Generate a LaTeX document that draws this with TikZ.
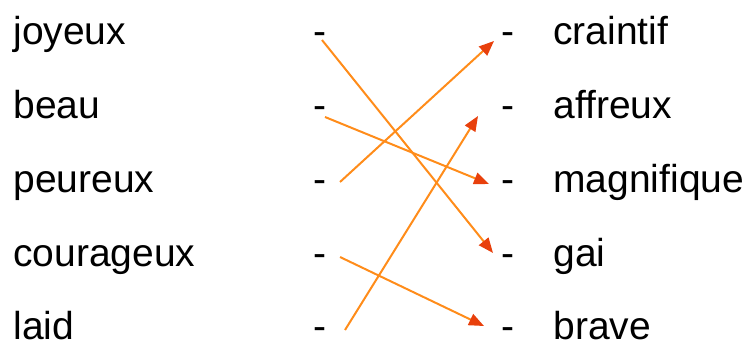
\documentclass[tikz,border=0pt]{standalone}
\usepackage{fontspec}
\setmainfont{Liberation Sans}
\usetikzlibrary{arrows.meta}
\definecolor{lineorange}{HTML}{FF8C1A}
\definecolor{headred}{HTML}{E8400C}
\begin{document}
\begin{tikzpicture}[x=0.5pt,y=-0.5pt,
  word/.style={anchor=base west,inner sep=0pt,font=\fontsize{19.5pt}{22pt}\selectfont},
  link/.style={draw=lineorange,line width=1pt,-{Triangle[length=7.5pt,width=6pt,color=headred]}}]
\useasboundingbox (0,0) rectangle (747,342);
% left column
\node[word] (l1) at (13,45) {joyeux};
\node[word] (l2) at (13,118.5) {beau};
\node[word] (l3) at (13,192) {peureux};
\node[word] (l4) at (13,266) {courageux};
\node[word] (l5) at (13,339) {laid};
% left dashes
\node[word] (dl1) at (313,45) {-};
\node[word] (dl2) at (313,118.5) {-};
\node[word] (dl3) at (313,192) {-};
\node[word] (dl4) at (313,266) {-};
\node[word] (dl5) at (313,339) {-};
% right dashes
\node[word] (dr1) at (501,45) {-};
\node[word] (dr2) at (501,118.5) {-};
\node[word] (dr3) at (501,192) {-};
\node[word] (dr4) at (501,266) {-};
\node[word] (dr5) at (501,339) {-};
% right column
\node[word] (r1) at (553,45) {craintif};
\node[word] (r2) at (553,118.5) {affreux};
\node[word] (r3) at (553,192) {magnifique};
\node[word] (r4) at (553,266) {gai};
\node[word] (r5) at (553,339) {brave};
% connector ends
\coordinate (s1) at (322,40);
\coordinate (s2) at (325,117);
\coordinate (s3) at (340,182);
\coordinate (s4) at (345,330);
\coordinate (s5) at (340,257);
\coordinate (e1) at (493,253);
\coordinate (e2) at (489,184);
\coordinate (e3) at (494,41);
\coordinate (e4) at (478,116);
\coordinate (e5) at (484,326);
\draw[link] (s1) -- (e1);
\draw[link] (s2) -- (e2);
\draw[link] (s3) -- (e3);
\draw[link] (s4) -- (e4);
\draw[link] (s5) -- (e5);
\end{tikzpicture}
\end{document}
